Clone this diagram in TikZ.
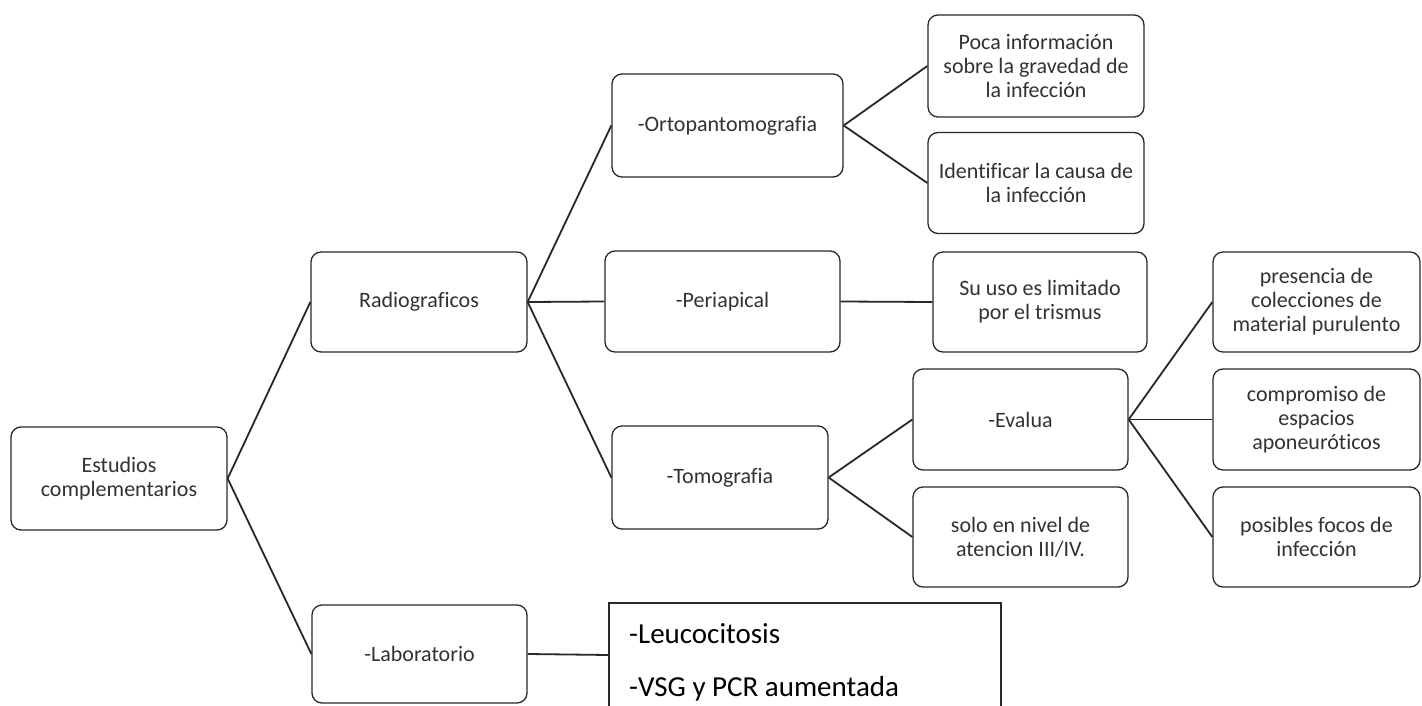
\documentclass[tikz,border=0pt]{standalone}
\usepackage{fontspec}
\setmainfont{Carlito}[Ligatures=NoCommon]
\usepackage{tikz}
\usetikzlibrary{positioning}
\definecolor{linegray}{RGB}{40, 40, 40}
\definecolor{textgray}{RGB}{50, 50, 50}

\begin{document}
\begin{tikzpicture}[x=1pt, y=-1pt,
    box/.style={draw=linegray, line width=1.3pt, rounded corners=10pt, align=center,
      inner sep=0pt, text=textgray, font=\fontsize{22}{24}\selectfont},
    link/.style={draw=linegray, line width=1.8pt}]
  \clip (0,0) rectangle (1422,706);
  \fill[white] (0,0) rectangle (1422,706);
  \node[box, minimum width=216pt, minimum height=103pt] (est) at (119,478.5) {Estudios\\complementarios};
  \node[box, minimum width=216pt, minimum height=100pt] (rad) at (419,302) {Radiograficos};
  \node[box, minimum width=215pt, minimum height=98pt] (lab) at (419.5,654) {-Laboratorio};
  \node[box, minimum width=231pt, minimum height=103pt] (orto) at (727.5,125.5) {-Ortopantomografia};
  \node[box, minimum width=235pt, minimum height=101pt] (peri) at (722.5,301.5) {-Periapical};
  \node[box, minimum width=216pt, minimum height=103pt] (tomo) at (720,477.5) {-Tomografia};
  \node[box, minimum width=216pt, minimum height=102pt] (poca) at (1036,66) {Poca información\\sobre la gravedad de\\la infección};
  \node[box, minimum width=216pt, minimum height=101pt] (iden) at (1036,183) {Identificar la causa de\\la infección};
  \node[box, minimum width=214pt, minimum height=100pt] (uso) at (1040,302) {Su uso es limitado\\por el trismus};
  \node[box, minimum width=215pt, minimum height=101pt] (eval) at (1020.5,419.5) {-Evalua};
  \node[box, minimum width=215pt, minimum height=100pt] (solo) at (1020.5,537) {solo en nivel de\\atencion III/IV.};
  \node[box, minimum width=207pt, minimum height=100pt] (pres) at (1316.5,302) {presencia de\\colecciones de\\material purulento};
  \node[box, minimum width=207pt, minimum height=101pt] (comp) at (1316.5,419.5) {compromiso de\\espacios\\aponeuróticos};
  \node[box, minimum width=207pt, minimum height=100pt] (posi) at (1316.5,537) {posibles focos de\\infección};
  \node[draw=linegray, line width=1.3pt, minimum width=392pt, minimum height=104pt, inner sep=0pt] (res) at (805,655) {};
  \node[anchor=base west, inner sep=0pt, font=\fontsize{29}{32}\selectfont] (leu) at (629,643) {-Leucocitosis};
  \node[anchor=base west, inner sep=0pt, font=\fontsize{29}{32}\selectfont] (vsg) at (629,696) {-VSG y PCR aumentada};
  \draw[link] (est.east) -- (rad.west);
  \draw[link] (est.east) -- (lab.west);
  \draw[link] (rad.east) -- (orto.west);
  \draw[link] (rad.east) -- (peri.west);
  \draw[link] (rad.east) -- (tomo.west);
  \draw[link] (orto.east) -- (poca.west);
  \draw[link] (orto.east) -- (iden.west);
  \draw[link] (peri.east) -- (uso.west);
  \draw[link] (tomo.east) -- (eval.west);
  \draw[link] (tomo.east) -- (solo.west);
  \draw[link] (eval.east) -- (pres.west);
  \draw[link] (eval.east) -- (comp.west);
  \draw[link] (eval.east) -- (posi.west);
  \draw[link] (lab.east) -- (res.west);
\end{tikzpicture}
\end{document}
